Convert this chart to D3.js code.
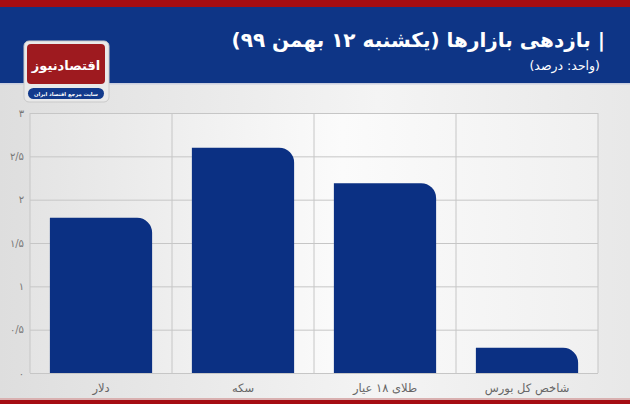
<!DOCTYPE html>
<html><head><meta charset="utf-8">
<script src="https://cdn.jsdelivr.net/npm/d3@7"></script>
<style>html,body{margin:0;padding:0;background:#eee;}svg{display:block;}</style>
</head><body>
<svg id="c" width="630" height="404"></svg>
<script>
const categories = ["دلار", "سکه", "طلای ۱۸ عیار", "شاخص کل بورس"];
const values = [1.79, 2.6, 2.19, 0.29];
const yTicks = [0, 0.5, 1, 1.5, 2, 2.5, 3];
const yTickLabels = ["۰", "۰/۵", "۱", "۱/۵", "۲", "۲/۵", "۳"];
const title = "| بازدهی بازارها (یکشنبه ۱۲ بهمن ۹۹)";
const subtitle = "(واحد: درصد)";

const svg = d3.select("#c");
const W = 630, H = 404;
const defs = svg.append("defs");
const bg = defs.append("linearGradient").attr("id","bg").attr("x1","0").attr("x2","1").attr("y1","0").attr("y2","0");
bg.append("stop").attr("offset","0").attr("stop-color","#dedede");
bg.append("stop").attr("offset","0.6").attr("stop-color","#f4f4f4");
bg.append("stop").attr("offset","1").attr("stop-color","#e8e8e8");
const pg = defs.append("linearGradient").attr("id","pg").attr("x1","0").attr("x2","1").attr("y1","0").attr("y2","0");
pg.append("stop").attr("offset","0").attr("stop-color","#e4e4e4");
pg.append("stop").attr("offset","0.55").attr("stop-color","#fbfbfb");
pg.append("stop").attr("offset","1").attr("stop-color","#f0f0f0");

svg.append("rect").attr("width",W).attr("height",H).attr("fill","url(#bg)");
// header
svg.append("rect").attr("x",0).attr("y",0).attr("width",W).attr("height",7).attr("fill","#a50d12");
svg.append("rect").attr("x",0).attr("y",7).attr("width",W).attr("height",76).attr("fill","#0e3586");
svg.append("rect").attr("x",0).attr("y",83).attr("width",W).attr("height",1.5).attr("fill","#c9cede");
// bottom strip
svg.append("rect").attr("x",0).attr("y",398).attr("width",W).attr("height",2).attr("fill","#d9b0b0");
svg.append("rect").attr("x",0).attr("y",400).attr("width",W).attr("height",4).attr("fill","#a50d12");

svg.append("text").attr("x",605).attr("y",47).attr("text-anchor","start").attr("direction","rtl")
  .attr("fill","#fff").attr("font-family","DejaVu Sans, sans-serif").attr("font-weight","bold")
  .attr("font-size",20).text(title);
svg.append("text").attr("x",600).attr("y",70).attr("text-anchor","start").attr("direction","rtl")
  .attr("fill","#fff").attr("font-family","DejaVu Sans, sans-serif")
  .attr("font-size",12.5).text(subtitle);

// logo
const lg = svg.append("g");
lg.append("rect").attr("x",24).attr("y",41).attr("width",85).attr("height",61).attr("rx",5).attr("fill","#e9e9e9").attr("stroke","#c9c9c9");
lg.append("rect").attr("x",27).attr("y",44).attr("width",78).attr("height",40).attr("rx",4).attr("fill","#9e1a1f");
lg.append("text").attr("x",66).attr("y",70).attr("text-anchor","middle").attr("direction","rtl")
  .attr("fill","#fff").attr("font-family","DejaVu Sans, sans-serif").attr("font-weight","bold")
  .attr("font-size",13).text("اقتصادنیوز");
lg.append("rect").attr("x",28).attr("y",88).attr("width",76).attr("height",11).attr("rx",5.5).attr("fill","#123a8c");
lg.append("text").attr("x",66).attr("y",96).attr("text-anchor","middle").attr("direction","rtl")
  .attr("fill","#fff").attr("font-family","DejaVu Sans, sans-serif").attr("font-weight","bold")
  .attr("font-size",5.2).text("سایت مرجع اقتصاد ایران");

// chart
const m = {l:30, r:598, t:113, b:373};
const x = d3.scaleBand().domain(categories).range([m.l, m.r]).paddingInner(0.28).paddingOuter(0.14);
const y = d3.scaleLinear().domain([0,3]).range([m.b, m.t]);
const bandStep = (m.r - m.l)/categories.length;

svg.append("rect").attr("x",m.l).attr("y",m.t).attr("width",m.r-m.l).attr("height",m.b-m.t).attr("fill","url(#pg)");

const yAxis = d3.axisLeft(y).tickValues(yTicks).tickSize(-(m.r-m.l)).tickFormat((d,i)=>yTickLabels[i]);
const ga = svg.append("g").attr("transform",`translate(${m.l},0)`).call(yAxis);
ga.select(".domain").remove();
ga.selectAll(".tick line").attr("stroke","#c6c6c6").attr("stroke-width",1);
ga.selectAll(".tick text").attr("fill","#777").attr("font-family","DejaVu Sans, sans-serif").attr("font-size",10).attr("x",-6);

// vertical separators
const seps = d3.range(categories.length+1).map(i=>m.l + i*bandStep);
svg.append("g").selectAll("line").data(seps).join("line")
  .attr("x1",d=>d).attr("x2",d=>d).attr("y1",m.t).attr("y2",m.b)
  .attr("stroke","#c6c6c6");

const r = 15;
function barPath(x0, w, yTop, yBot){
  const rr = Math.min(r, yBot-yTop, w);
  return `M${x0},${yBot}V${yTop}H${x0+w-rr}A${rr},${rr} 0 0 1 ${x0+w},${yTop+rr}V${yBot}Z`;
}
svg.append("g").selectAll("path").data(values).join("path")
  .attr("d",(d,i)=>barPath(x(categories[i]), x.bandwidth(), y(d), y(0)))
  .attr("fill","#0b3083");

const xAxis = d3.axisBottom(x).tickSize(0);
const gx = svg.append("g").attr("transform",`translate(0,${m.b})`).call(xAxis);
gx.select(".domain").remove();
gx.selectAll(".tick text").attr("fill","#666").attr("font-family","DejaVu Sans, sans-serif").attr("font-size",11.5).attr("dy","1.4em").attr("direction","rtl");
</script>
</body></html>
